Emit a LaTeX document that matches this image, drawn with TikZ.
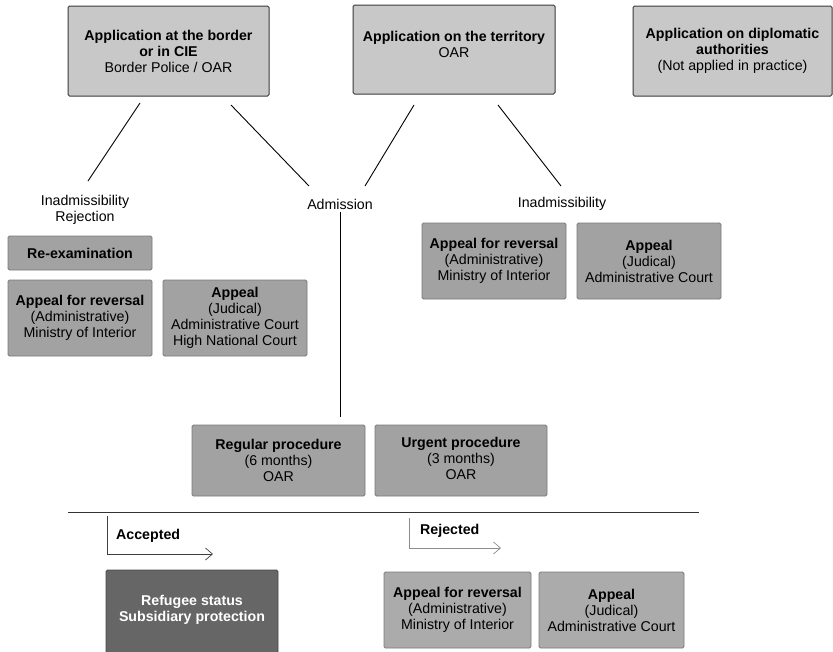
\documentclass[tikz,border=0pt]{standalone}
\usepackage{fontspec}
\setmainfont{Liberation Sans}
\usetikzlibrary{arrows.meta}
\definecolor{lightbox}{HTML}{C8C8C8}
\definecolor{midbox}{HTML}{A2A2A2}
\definecolor{darkbox}{HTML}{666666}
\definecolor{edgedark}{HTML}{3A3A3A}
\definecolor{edgemid}{HTML}{7A7A7A}
\begin{document}
\begin{tikzpicture}[x=1pt,y=-1pt,
  every node/.style={font=\fontsize{14.2}{16}\selectfont, align=center, inner sep=0pt},
  topbox/.style={draw=edgedark, line width=1pt, fill=lightbox, rounded corners=1.5pt},
  midstyle/.style={draw=edgemid, line width=0.8pt, fill=midbox, rounded corners=1.5pt},
  darkstyle/.style={draw=darkbox!70!black, line width=0.8pt, fill=darkbox, rounded corners=1.5pt},
  conn/.style={line width=0.9pt, draw=black},
  lbl/.style={text=black},
]
\useasboundingbox (0,0) rectangle (833,651);
% top boxes
\node[topbox, minimum width=201, minimum height=90] (border) at (168.5,51) {\textbf{Application at the border}\\\textbf{or in CIE}\\Border Police / OAR};
\node[topbox, minimum width=202, minimum height=89] (terr) at (454,49.5) {};
\node (terrt) at (454,44) {\textbf{Application on the territory}\\OAR};
\node[topbox, minimum width=199, minimum height=90] (dipl) at (732.5,51) {\textbf{Application on diplomatic}\\\textbf{authorities}\\(Not applied in practice)};
% labels
\node[lbl] (inadmL) at (85,210) {Inadmissibility\\Rejection};
\node[lbl] (adm) at (340,204) {Admission};
\node[lbl] (inadmR) at (562,204) {Inadmissibility};
% connectors (free segments)
\coordinate (b1a) at (140,103); \coordinate (b1b) at (88,181);
\coordinate (b2a) at (231,105); \coordinate (b2b) at (309,186);
\coordinate (t1a) at (414,105); \coordinate (t1b) at (365,186);
\coordinate (t2a) at (498,105); \coordinate (t2b) at (561,186);
\draw[conn] (b1a) -- (b1b);
\draw[conn] (b2a) -- (b2b);
\draw[conn] (t1a) -- (t1b);
\draw[conn] (t2a) -- (t2b);
\coordinate (admdown) at (340,417);
\draw[conn] (adm.south) ++(0,3) coordinate (admtop) -- (admdown);
% left column boxes
\node[midstyle, minimum width=144, minimum height=34] (reexam) at (80,253) {\textbf{Re-examination}};
\node[midstyle, minimum width=144, minimum height=76] (revL) at (80,318) {\textbf{Appeal for reversal}\\(Administrative)\\Ministry of Interior};
\node[midstyle, minimum width=144, minimum height=76] (appL) at (235,318) {\textbf{Appeal}\\(Judical)\\Administrative Court\\High National Court};
% right column boxes
\node[midstyle, minimum width=144, minimum height=76] (revR) at (494,261) {};
\node (revRt) at (494,261) {\textbf{Appeal for reversal}\\(Administrative)\\Ministry of Interior};
\node[midstyle, minimum width=144, minimum height=76] (appR) at (649,261) {\textbf{Appeal}\\(Judical)\\Administrative Court};
% procedures
\node[midstyle, minimum width=173, minimum height=71] (reg) at (278.5,460.5) {\textbf{Regular procedure}\\(6 months)\\OAR};
\node[midstyle, minimum width=172, minimum height=71] (urg) at (461,460.5) {};
\node (urgt) at (461,458) {\textbf{Urgent procedure}\\(3 months)\\OAR};
% separator
\coordinate (sepL) at (68,512); \coordinate (sepR) at (699,512);
\draw[line width=1pt, draw=black!80] (sepL) -- (sepR);
% accepted
\coordinate (accTop) at (107,516); \coordinate (accCorner) at (107,554); \coordinate (accEnd) at (213,554);
\draw[line width=0.7pt, draw=black!75, -{Straight Barb[length=7pt,width=12pt,line width=0.7pt]}] (accTop) -- (accCorner) -- (accEnd);
\node[anchor=west] (acc) at (116,536) {\textbf{Accepted}};
% rejected
\coordinate (rejTop) at (409,518); \coordinate (rejCorner) at (409,548); \coordinate (rejEnd) at (501,548);
\draw[line width=0.7pt, draw=black!45, -{Straight Barb[length=7pt,width=12pt,line width=0.7pt]}] (rejTop) -- (rejCorner) -- (rejEnd);
\node[anchor=west] (rej) at (420,531) {\textbf{Rejected}};
% bottom boxes
\node[darkstyle, minimum width=172, minimum height=86] (refugee) at (192,613) {};
\node[text=white] (refugeet) at (192,610) {\textbf{Refugee status}\\\textbf{Subsidiary protection}};
\node[midstyle, fill=midbox!90!white, minimum width=147, minimum height=76] (revB) at (457.5,610) {\textbf{Appeal for reversal}\\(Administrative)\\Ministry of Interior};
\node[midstyle, fill=midbox!90!white, minimum width=145, minimum height=76] (appB) at (611.5,610) {\textbf{Appeal}\\(Judical)\\Administrative Court};
\end{tikzpicture}
\end{document}
